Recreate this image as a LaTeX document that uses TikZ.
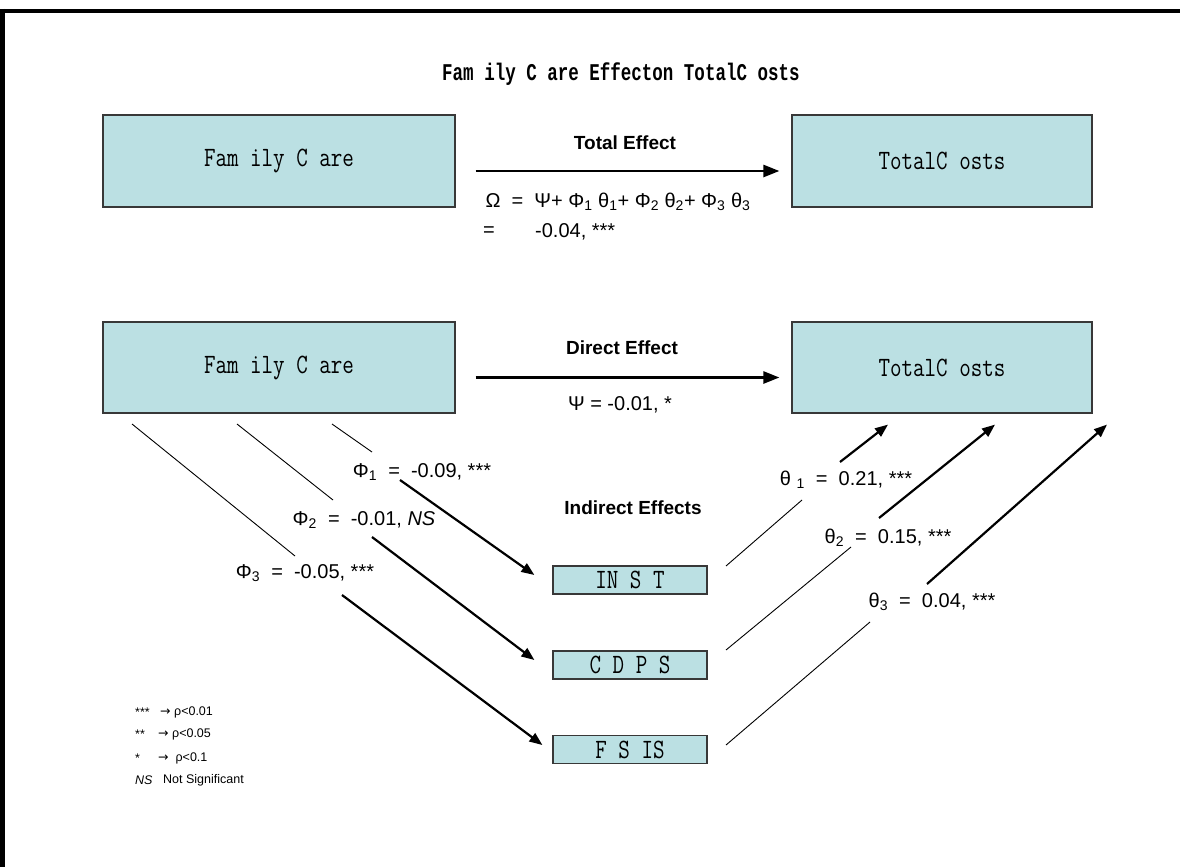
\documentclass[tikz,border=0pt]{standalone}
\usepackage{fontspec}
\usepackage{graphicx}
\setmainfont{Liberation Sans}
\newfontfamily\titlefont[FakeStretch=0.73]{Liberation Mono}
\newfontfamily\symfont{DejaVu Sans}
\usetikzlibrary{arrows.meta}
\newcommand\sbs[1]{\textsubscript{#1}}
\newcommand\bxt[1]{\scalebox{0.8}[1]{#1}}
\definecolor{boxfill}{HTML}{BBE0E3}
\definecolor{boxline}{HTML}{383838}
\begin{document}
\begin{tikzpicture}[x=1pt,y=-1pt,
  varbox/.style={draw=boxline,fill=boxfill,line width=1.2pt,inner sep=0pt,
    font=\ttfamily\fontsize{28}{30}\selectfont},
  thinline/.style={line width=0.9pt},
  effarrow/.style={line width=2.6pt,-{Triangle[length=16pt,width=12pt]}},
  patharrow/.style={line width=2.2pt,-{Triangle[length=13pt,width=10pt]}},
  lab/.style={font=\fontsize{20}{22}\selectfont,inner sep=0pt},
  blab/.style={font=\bfseries\fontsize{19}{21}\selectfont,inner sep=0pt},
  leg/.style={font=\fontsize{12.5}{14}\selectfont,inner sep=0pt,anchor=west},
]
\useasboundingbox (0,0) rectangle (1180,867);
\fill[white] (0,0) rectangle (1180,867);
\draw[line width=4pt] (0,11) -- (1180,11);
\draw[line width=5pt] (2.5,9) -- (2.5,867);

\node[font=\titlefont\bfseries\fontsize{24}{26}\selectfont,inner sep=0pt,anchor=west] (title) at (442,74) {Fam ily C are Effecton TotalC osts};

% boxes
\node[varbox,minimum width=352pt,minimum height=92pt] (fc1) at (279,161) {\bxt{Fam ily C are}};
\node[varbox,minimum width=300pt,minimum height=92pt] (tc1) at (942,161) {\bxt{TotalC osts}};
\node[varbox,minimum width=352pt,minimum height=91pt] (fc2) at (279,367.5) {\bxt{Fam ily C are}};
\node[varbox,minimum width=300pt,minimum height=91pt] (tc2) at (942,367.5) {\bxt{TotalC osts}};
\node[varbox,minimum width=154pt,minimum height=28pt] (inst) at (630,580) {\bxt{IN S T}};
\node[varbox,minimum width=154pt,minimum height=28pt] (cdps) at (630,665) {\bxt{C D P S}};
\node[varbox,minimum width=154pt,minimum height=28pt] (fsis) at (630,749.5) {\bxt{F S IS}};

% total effect
\node[blab] (tlab) at (625,143) {Total Effect};
\draw[effarrow] ([xshift=20pt,yshift=-10pt]fc1.east) -- ([xshift=-12pt,yshift=-10pt]tc1.west);
\node[lab] (formula) at (618,202) {Ω \ = \ Ψ+ Φ\sbs{1} θ\sbs{1}+ Φ\sbs{2} θ\sbs{2}+ Φ\sbs{3} θ\sbs{3}};
\node[lab] (eq2) at (489,232) {=};
\node[lab,anchor=west] (val2) at (535,232) {-0.04, ***};

% direct effect
\node[blab] (dlab) at (622,348) {Direct Effect};
\draw[effarrow] ([xshift=20pt,yshift=-10pt]fc2.east) -- ([xshift=-12pt,yshift=-10pt]tc2.west);
\node[lab] (psilab) at (620,405) {Ψ = -0.01, *};

\node[blab] (ilab) at (633,508) {Indirect Effects};

% phi paths
\coordinate (a1s) at (332,424); \coordinate (a1e) at (372,452);
\coordinate (a2s) at (237,424); \coordinate (a2e) at (333,500);
\coordinate (a3s) at (132,424); \coordinate (a3e) at (295,556);
\node[lab] (phi1) at (422,472) {Φ\sbs{1} \ = \ -0.09, ***};
\node[lab] (phi2) at (364,520) {Φ\sbs{2} \ = \ -0.01, \textit{NS}};
\node[lab] (phi3) at (305,573) {Φ\sbs{3} \ = \ -0.05, ***};
\coordinate (b1s) at (400,480);
\coordinate (b2s) at (372,537);
\coordinate (b3s) at (342,595);
\draw[thinline] (a1s) -- (a1e);
\draw[thinline] (a2s) -- (a2e);
\draw[thinline] (a3s) -- (a3e);
\draw[patharrow] (b1s) -- ([xshift=-18pt,yshift=5pt]inst.west);
\draw[patharrow] (b2s) -- ([xshift=-18pt,yshift=5pt]cdps.west);
\draw[patharrow] (b3s) -- ([xshift=-10pt,yshift=4.5pt]fsis.west);

% theta paths
\coordinate (c1s) at (726,566); \coordinate (c1e) at (802,500);
\coordinate (c2s) at (726,650); \coordinate (c2e) at (851,547);
\coordinate (c3s) at (726,745); \coordinate (c3e) at (870,622);
\node[lab] (th1) at (846,480) {θ \sbs{1} \ = \ 0.21, ***};
\node[lab] (th2) at (888,538) {θ\sbs{2} \ = \ 0.15, ***};
\node[lab] (th3) at (932,602) {θ\sbs{3} \ = \ 0.04, ***};
\coordinate (d1s) at (840,462);
\coordinate (d2s) at (879,518);
\coordinate (d3s) at (927,584);
\draw[thinline] (c1s) -- (c1e);
\draw[thinline] (c2s) -- (c2e);
\draw[thinline] (c3s) -- (c3e);
\draw[patharrow] (d1s) -- ([xshift=-54pt,yshift=-11pt]tc2.south);
\draw[patharrow] (d2s) -- ([xshift=53pt,yshift=-11pt]tc2.south);
\draw[patharrow] (d3s) -- ([xshift=165pt,yshift=-11pt]tc2.south);

% legend
\node[leg] (l1a) at (135,712) {***};
\node[leg] (l1b) at (160,712) {{\symfont→} ρ<0.01};
\node[leg] (l2a) at (135,734) {**};
\node[leg] (l2b) at (158,734) {{\symfont→} ρ<0.05};
\node[leg] (l3a) at (135,758) {*};
\node[leg] (l3b) at (158,758) {{\symfont→} \ ρ<0.1};
\node[leg] (l4a) at (135,780) {\textit{NS}};
\node[leg] (l4b) at (163,780) {Not Significant};
\end{tikzpicture}
\end{document}
